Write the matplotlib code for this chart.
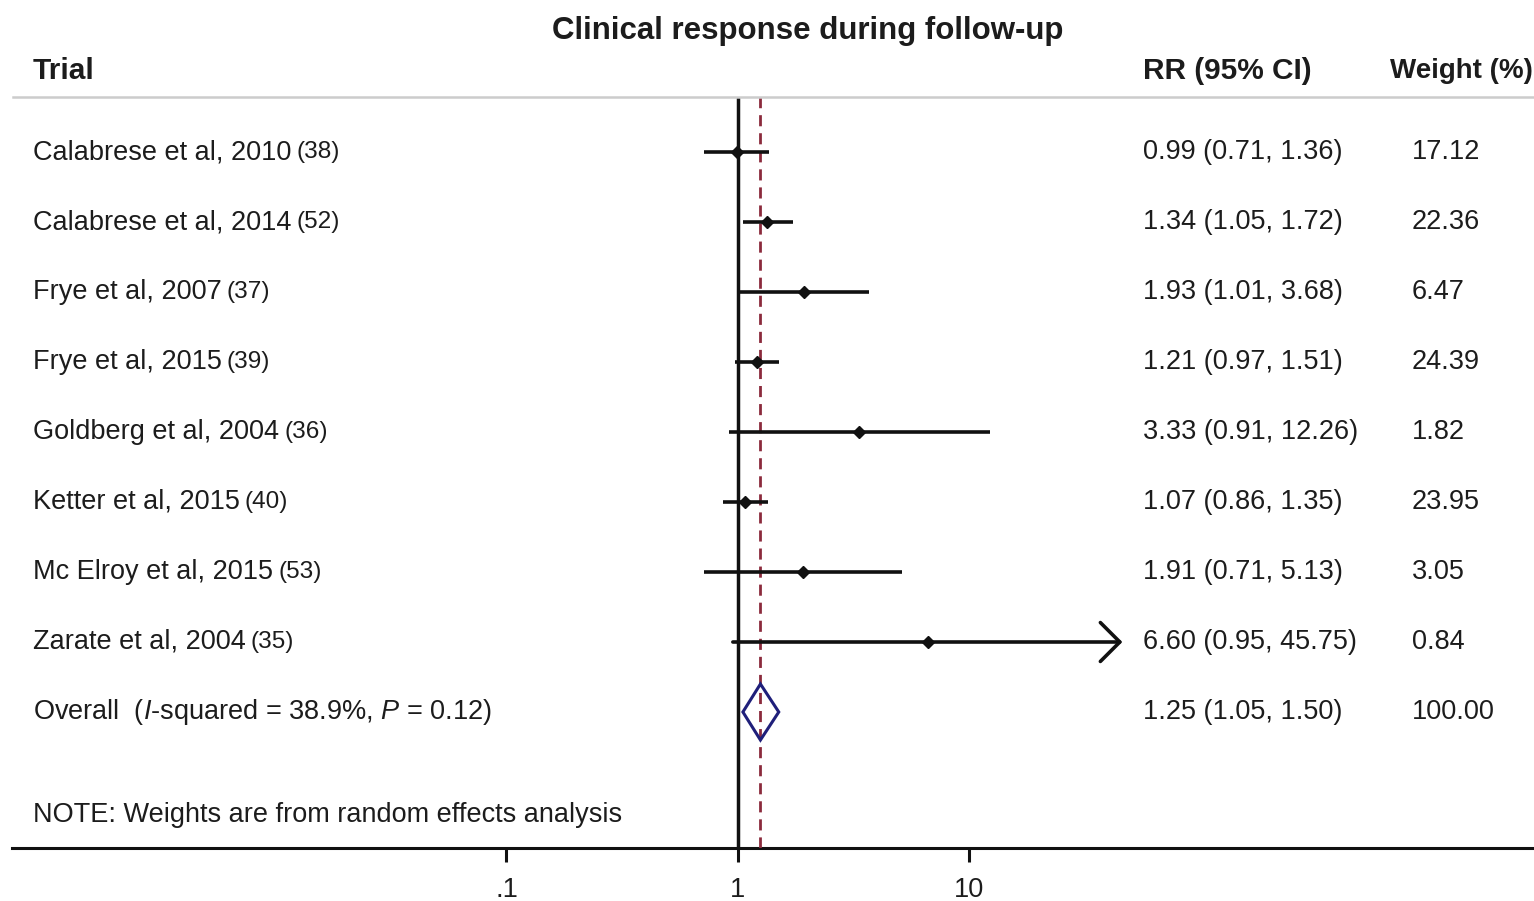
import numpy as np
import matplotlib
matplotlib.use("Agg")
import matplotlib.pyplot as plt
import matplotlib.transforms as mtransforms
from matplotlib.patches import Polygon

# ── Data ─────────────────────────────────────────────────────────────────────
studies = ["Calabrese et al, 2010", "Calabrese et al, 2014", "Frye et al, 2007",
           "Frye et al, 2015", "Goldberg et al, 2004", "Ketter et al, 2015",
           "Mc Elroy et al, 2015", "Zarate et al, 2004"]
refs = ["(38)", "(52)", "(37)", "(39)", "(36)", "(40)", "(53)", "(35)"]
rr = [0.99, 1.34, 1.93, 1.21, 3.33, 1.07, 1.91, 6.60]
ci_low = [0.71, 1.05, 1.01, 0.97, 0.91, 0.86, 0.71, 0.95]
ci_high = [1.36, 1.72, 3.68, 1.51, 12.26, 1.35, 5.13, 45.75]
weights = ["17.12", "22.36", "6.47", "24.39", "1.82", "23.95", "3.05", "0.84"]

overall_rr, overall_low, overall_high = 1.25, 1.05, 1.50
overall_weight = "100.00"
arrow_rows = [7]            # CI clipped → drawn with arrow

xticks = [0.1, 1, 10]
xticklabels = [".1", "1", "10"]

# ── Figure layout (pixel based) ──────────────────────────────────────────────
W, H, DPI = 1534, 901, 100
plt.rcParams["font.family"] = ["Liberation Sans", "DejaVu Sans"]
plt.rcParams["mathtext.fontset"] = "custom"
plt.rcParams["mathtext.rm"] = "Liberation Sans"
plt.rcParams["mathtext.it"] = "Liberation Sans:italic"
TXT = "#1c1c1c"
FS = 19.5
LINE = "#111111"

fig = plt.figure(figsize=(W / DPI, H / DPI), dpi=DPI)
ax_left, ax_right, ax_top, ax_bot = 12, 1534, 97, 848
ax = fig.add_axes([ax_left / W, 1 - ax_bot / H,
                   (ax_right - ax_left) / W, (ax_bot - ax_top) / H])

# log axis: 1 at x=738 px, one decade = 231.5 px
dec = 231.5
ax.set_xscale("log")
ax.set_xlim(10 ** ((ax_left - 738) / dec), 10 ** ((ax_right - 738) / dec))
row0, step = 152, 70
ax.set_ylim((ax_bot - row0) / step, (ax_top - row0) / step)

for s in ["top", "left", "right"]:
    ax.spines[s].set_visible(False)
ax.spines["bottom"].set_linewidth(2.2)
ax.spines["bottom"].set_color(LINE)
ax.set_yticks([])
ax.set_xticks(xticks)
ax.set_xticklabels(xticklabels, fontsize=FS, color=TXT)
ax.xaxis.set_minor_locator(matplotlib.ticker.NullLocator())
ax.tick_params(axis="x", direction="out", length=10, width=2.2, pad=11, color=LINE)

# reference lines
ax.axvline(1, color=LINE, lw=2.5, zorder=2)
ax.axvline(overall_rr, color="#8b2a3c", lw=2, ls=(0, (4, 2.5)), zorder=3)

# study CIs and point estimates
ys = np.arange(len(studies))
for i, y in enumerate(ys):
    if i in arrow_rows:
        ax.annotate("", xy=(ci_high[i], y), xytext=(ci_low[i], y),
                    arrowprops=dict(arrowstyle="->,head_length=1.0,head_width=1.0",
                                    lw=2.6, color=LINE, mutation_scale=14,
                                    shrinkA=0, shrinkB=0), zorder=4)
    else:
        ax.plot([ci_low[i], ci_high[i]], [y, y], color=LINE, lw=2.6,
                solid_capstyle="butt", zorder=4)
ax.plot(rr, ys, ls="none", marker="D", ms=6.5, color=LINE, zorder=5)

# overall diamond
y_ov = len(studies)
h = 0.4
diamond = Polygon([(overall_low, y_ov), (overall_rr, y_ov - h),
                   (overall_high, y_ov), (overall_rr, y_ov + h)],
                  closed=True, fill=False, edgecolor="#1f1f7a", lw=2.2, zorder=6)
ax.add_patch(diamond)

# ── Text columns ─────────────────────────────────────────────────────────────
tr = mtransforms.blended_transform_factory(fig.transFigure, ax.transData)
col_name, col_rr, col_w = 33 / W, 1143 / W, 1412 / W

fig.canvas.draw()
renderer = fig.canvas.get_renderer()
for i, y in enumerate(ys):
    t = ax.text(col_name, y, studies[i], transform=tr, fontsize=FS, color=TXT,
                va="center", ha="left")
    bb = t.get_window_extent(renderer)
    ax.text((bb.x1 + 5) / W, y, refs[i], transform=tr, fontsize=FS * 0.9,
            color=TXT, va="center", ha="left")
    ax.text(col_rr, y, f"{rr[i]:.2f} ({ci_low[i]:.2f}, {ci_high[i]:.2f})",
            transform=tr, fontsize=FS, color=TXT, va="center", ha="left")
    ax.text(col_w, y, weights[i], transform=tr, fontsize=FS, color=TXT,
            va="center", ha="left")

ax.text(col_name, y_ov, "Overall  ($I$-squared = 38.9%, $P$ = 0.12)", transform=tr,
        fontsize=FS, color=TXT, va="center", ha="left")
ax.text(col_rr, y_ov, f"{overall_rr:.2f} ({overall_low:.2f}, {overall_high:.2f})",
        transform=tr, fontsize=FS, color=TXT, va="center", ha="left")
ax.text(col_w, y_ov, overall_weight, transform=tr, fontsize=FS, color=TXT,
        va="center", ha="left")
ax.text(col_name, (815 - row0) / step, "NOTE: Weights are from random effects analysis",
        transform=tr, fontsize=FS, color=TXT, va="center", ha="left")

# headers
fig.text(808 / W, 1 - 31 / H, "Clinical response during follow-up", fontsize=22.5,
         fontweight="bold", color=TXT, ha="center", va="center")
fig.text(33 / W, 1 - 71 / H, "Trial", fontsize=21.5, fontweight="bold", color=TXT,
         ha="left", va="center")
fig.text(1143 / W, 1 - 71 / H, "RR (95% CI)", fontsize=21.5, fontweight="bold",
         color=TXT, ha="left", va="center")
# reference crops this header at the right edge; shrink a little so it fits
fig.text(1390 / W, 1 - 71 / H, "Weight (%)", fontsize=20, fontweight="bold",
         color=TXT, ha="left", va="center")
fig.add_artist(plt.Line2D([13 / W, 1], [1 - 97 / H, 1 - 97 / H],
                          transform=fig.transFigure, color="#cccccc", lw=1.8))

fig.savefig("out.png", dpi=DPI)
